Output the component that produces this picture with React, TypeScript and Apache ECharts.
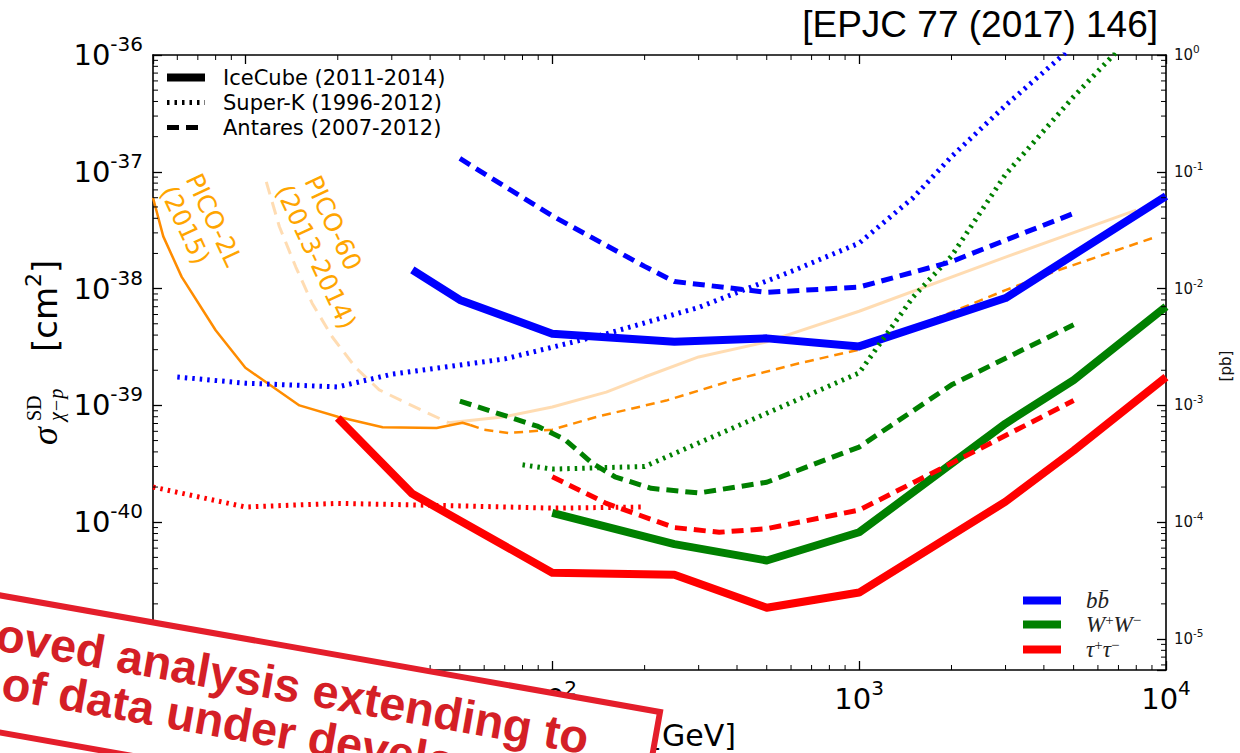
import React, { useEffect, useRef } from "react";
import * as echarts from "echarts";

// ---------- axis ranges ----------
const X_MIN = 5;
const X_MAX = 1e4;
const Y_MIN = 5.43e-42;
const Y_MAX = 1e-36;
const PB_MIN = 5.43e-6;
const PB_MAX = 1;

// ---------- IceCube (2011-2014), thick solid ----------
const icBB_x = [35, 50, 100, 250, 500, 1000, 3000, 10000];
const icBB_y = [1.45e-38, 8.0e-39, 4.1e-39, 3.5e-39, 3.75e-39, 3.2e-39, 8.3e-39, 6.2e-38];
const icWW_x = [100, 250, 500, 1000, 3000, 5000, 10000];
const icWW_y = [1.2e-40, 6.5e-41, 4.7e-41, 8.2e-41, 7.0e-40, 1.65e-39, 7.0e-39];
const icTT_x = [20, 35, 100, 250, 500, 1000, 3000, 5000, 10000];
const icTT_y = [7.8e-40, 1.75e-40, 3.7e-41, 3.55e-41, 1.85e-41, 2.5e-41, 1.5e-40, 4.1e-40, 1.75e-39];

// ---------- Super-K (1996-2012), dotted ----------
const skBB_x = [6, 10, 20, 30, 70, 150, 300, 600, 1000, 1500, 2000, 3000, 5000];
const skBB_y = [1.75e-39, 1.55e-39, 1.44e-39, 1.85e-39, 2.5e-39, 4.1e-39, 6.9e-39, 1.4e-38, 2.45e-38, 6.0e-38, 1.35e-37, 3.7e-37, 1.2e-36];
const skWW_x = [80, 100, 200, 1000, 1500, 2000, 3000, 5000, 8000];
const skWW_y = [3.1e-40, 2.85e-40, 3.0e-40, 1.9e-39, 8.5e-39, 1.9e-38, 9.5e-38, 4.4e-37, 1.6e-36];
const skTT_x = [5, 10, 20, 50, 100, 200];
const skTT_y = [2.0e-40, 1.35e-40, 1.45e-40, 1.38e-40, 1.32e-40, 1.35e-40];

// ---------- Antares (2007-2012), dashed ----------
const anBB_x = [50, 100, 200, 250, 500, 1000, 2000, 3000, 5000];
const anBB_y = [1.3e-37, 4.2e-38, 1.55e-38, 1.15e-38, 9.3e-39, 1.03e-38, 1.7e-38, 2.6e-38, 4.4e-38];
const anWW_x = [50, 90, 110, 135, 160, 210, 300, 500, 1000, 2000, 5000];
const anWW_y = [1.09e-39, 6.6e-40, 5.1e-40, 3.2e-40, 2.45e-40, 1.95e-40, 1.78e-40, 2.2e-40, 4.4e-40, 1.5e-39, 4.9e-39];
const anTT_x = [100, 150, 250, 350, 500, 1000, 2000, 5000];
const anTT_y = [2.45e-40, 1.45e-40, 9.0e-41, 8.2e-41, 8.8e-41, 1.27e-40, 3.2e-40, 1.1e-39];

// ---------- PICO ----------
const pico2L_x = [5, 5.4, 6.2, 8, 10, 15, 20, 28, 42, 51, 54];
const pico2L_y = [6.0e-38, 2.8e-38, 1.26e-38, 4.4e-39, 2.1e-39, 1.0e-39, 8.0e-40, 6.5e-40, 6.4e-40, 7.1e-40, 6.8e-40];
const pico2LExt_x = [54, 60, 72, 100, 140, 235, 390, 640, 1000, 3000, 4500, 9000];
const pico2LExt_y = [6.8e-40, 6.2e-40, 5.8e-40, 6.2e-40, 8.0e-40, 1.1e-39, 1.65e-39, 2.3e-39, 3.0e-39, 9.7e-39, 1.45e-38, 2.7e-38];
const pico60_x = [11.7, 12.9, 14.6, 16.5, 19.2, 22.9, 27.3, 33.4, 46];
const pico60_y = [8.2e-38, 3.4e-38, 1.53e-38, 7.5e-39, 3.85e-39, 2.1e-39, 1.36e-39, 1.05e-39, 7.1e-40];
const pico60Ext_x = [46, 70, 100, 150, 200, 300, 500, 1000, 3000, 8000];
const pico60Ext_y = [7.1e-40, 8.0e-40, 9.7e-40, 1.3e-39, 1.75e-39, 2.6e-39, 3.5e-39, 6.4e-39, 1.86e-38, 4.7e-38];

// ---------- legends / labels ----------
const experimentNames = ["IceCube (2011-2014)", "Super-K (1996-2012)", "Antares (2007-2012)"];
const channelNames = ["bb\u0304", "W+W-", "τ+τ-"];
const channelRich: Record<string, string> = {
  "bb\u0304": "{i|bb\u0304}",
  "W+W-": "{i|W}{s|+}{i|W}{s|−}",
  "τ+τ-": "{i|τ}{s|+}{i|τ}{s|−}",
};

const BLUE = "#0000ff";
const GREEN = "#008000";
const RED = "#ff0000";
const ORANGE = "#ff8c00";
const PEACH = "rgba(255,140,0,0.3)";
const LABEL_ORANGE = "#ffa500";

const SANS = "'DejaVu Sans', sans-serif";
const SERIF = "'Liberation Serif', 'DejaVu Serif', serif";
const ARIAL = "'Liberation Sans', Arial, sans-serif";

const DOT = [2.5, 5];
const DASH = [12, 7];
const DOT_W = 5;

const pts = (xs: number[], ys: number[]) => xs.map((x, i) => [x, ys[i]]);

const powLabel = (v: number) => {
  const e = Math.log10(v);
  const r = Math.round(e);
  if (Math.abs(e - r) > 1e-6) return "";
  return `{b|10}{s|${r}}`;
};

function buildMinorTicks() {
  const data: number[][] = [];
  for (let n = 0; n <= 3; n++) {
    for (let k = 2; k <= 9; k++) {
      const v = k * Math.pow(10, n);
      if (v > X_MIN * 1.0001 && v < X_MAX * 0.9999) {
        data.push([v, Y_MIN, 0]);
        data.push([v, Y_MAX, 1]);
      }
    }
  }
  for (let n = -42; n <= -37; n++) {
    for (let k = 2; k <= 9; k++) {
      const v = k * Math.pow(10, n);
      if (v > Y_MIN * 1.0001 && v < Y_MAX * 0.9999) {
        data.push([X_MIN, v, 2]);
        data.push([X_MAX, v, 3]);
      }
    }
  }
  return data;
}

const lineBase = {
  type: "line",
  symbol: "none",
  showSymbol: false,
  silent: true,
  clip: true,
  emphasis: { disabled: true },
};

function buildOption() {
  const frame = { show: true, onZero: false, lineStyle: { color: "#000", width: 1.6 } };
  const major = { show: true, inside: true, length: 9, lineStyle: { color: "#000", width: 1.3 } };
  const bigRich = {
    b: { fontSize: 29, fontFamily: SANS, color: "#000", lineHeight: 34 },
    s: { fontSize: 20, fontFamily: SANS, color: "#000", padding: [0, 0, 22, 0] },
  };
  const smallRich = {
    b: { fontSize: 15, fontFamily: SANS, color: "#111", lineHeight: 18 },
    s: { fontSize: 10.5, fontFamily: SANS, color: "#111", padding: [0, 0, 12, 0] },
  };
  const rot = (-65 * Math.PI) / 180;
  const bannerRot = (-10 * Math.PI) / 180;
  const BZ = 100;

  return {
    animation: false,
    backgroundColor: "#ffffff",
    grid: { left: 153, right: 74, top: 55, bottom: 83, containLabel: false, outerBoundsMode: "none" },
    xAxis: [
      {
        type: "log", logBase: 10, min: X_MIN, max: X_MAX, position: "bottom",
        axisLine: frame, axisTick: major, splitLine: { show: false }, minorTick: { show: false },
        axisLabel: { show: true, formatter: powLabel, margin: 8, rich: bigRich },
      },
      {
        type: "log", logBase: 10, min: X_MIN, max: X_MAX, position: "top",
        axisLine: frame, axisTick: major, splitLine: { show: false },
        axisLabel: { show: false },
      },
    ],
    yAxis: [
      {
        type: "log", logBase: 10, min: Y_MIN, max: Y_MAX, position: "left",
        axisLine: frame, axisTick: major, splitLine: { show: false },
        axisLabel: { show: true, formatter: powLabel, margin: 10, rich: bigRich },
      },
      {
        type: "log", logBase: 10, min: PB_MIN, max: PB_MAX, position: "right",
        axisLine: frame, axisTick: major, splitLine: { show: false },
        axisLabel: { show: true, formatter: powLabel, margin: 8, rich: smallRich },
      },
    ],
    legend: [
      {
        orient: "vertical", left: 163, top: 67, padding: 0, itemWidth: 38, itemHeight: 20, itemGap: 4,
        selectedMode: false,
        itemStyle: { opacity: 0 },
        data: [
          { name: experimentNames[0], lineStyle: { width: 8, type: "solid", color: "#000" } },
          { name: experimentNames[1], lineStyle: { width: DOT_W, type: DOT, color: "#000" } },
          { name: experimentNames[2], lineStyle: { width: 5, type: DASH, color: "#000" } },
        ],
        textStyle: { fontSize: 21, lineHeight: 20, fontFamily: SANS, color: "#000", padding: [0, 0, 0, 13] },
      },
      {
        orient: "vertical", left: 1019, top: 589, padding: 0, itemWidth: 38, itemHeight: 20, itemGap: 0,
        selectedMode: false,
        itemStyle: { opacity: 0 },
        data: channelNames.map((n) => ({ name: n, lineStyle: { width: 8, type: "solid" } })),
        formatter: (name: string) => channelRich[name] || name,
        textStyle: {
          color: "#222", padding: [0, 0, 0, 20],
          rich: {
            i: { fontFamily: SERIF, fontStyle: "italic", fontSize: 23, lineHeight: 20, color: "#222" },
            s: { fontFamily: SERIF, fontSize: 15, lineHeight: 10, color: "#222", padding: [0, 0, 10, 0] },
          },
        },
      },
    ],
    graphic: {
      elements: [
        {
          type: "text", x: 1158, y: 24, z: 60,
          style: { text: "[EPJC 77 (2017) 146]", fontSize: 37, fontFamily: ARIAL, fill: "#000", align: "right", verticalAlign: "middle" },
        },
        {
          type: "text", x: 214, y: 220, rotation: rot, z: 60,
          style: { text: "PICO-2L", fontSize: 25, fontFamily: SANS, fill: LABEL_ORANGE, align: "center", verticalAlign: "middle" },
        },
        {
          type: "text", x: 185, y: 225, rotation: rot, z: 60,
          style: { text: "(2015)", fontSize: 25, fontFamily: SANS, fill: LABEL_ORANGE, align: "center", verticalAlign: "middle" },
        },
        {
          type: "text", x: 333, y: 223, rotation: rot, z: 60,
          style: { text: "PICO-60", fontSize: 25, fontFamily: SANS, fill: LABEL_ORANGE, align: "center", verticalAlign: "middle" },
        },
        {
          type: "text", x: 316, y: 257, rotation: rot, z: 60,
          style: { text: "(2013-2014)", fontSize: 25, fontFamily: SANS, fill: LABEL_ORANGE, align: "center", verticalAlign: "middle" },
        },
        // y axis title
        {
          type: "group", x: 45, y: 447, rotation: Math.PI / 2,
          children: [
            { type: "text", x: 2, y: 0, z: 60, style: { text: "σ", fontFamily: SERIF, fontStyle: "italic", fontSize: 36, fill: "#000", align: "left", verticalAlign: "middle" } },
            { type: "text", x: 26, y: -11, z: 60, style: { text: "SD", fontFamily: SERIF, fontSize: 20, fill: "#000", align: "left", verticalAlign: "middle" } },
            { type: "text", x: 26, y: 11, z: 60, style: { text: "χ−p", fontFamily: SERIF, fontStyle: "italic", fontSize: 20, fill: "#000", align: "left", verticalAlign: "middle" } },
            {
              type: "text", x: 95, y: 0, z: 60,
              style: {
                text: "{n|[cm}{s|2}{n|]}", align: "left", verticalAlign: "middle",
                rich: {
                  n: { fontFamily: SANS, fontSize: 34, fill: "#000", color: "#000" },
                  s: { fontFamily: SANS, fontSize: 22, fill: "#000", color: "#000", padding: [0, 0, 24, 0] },
                },
              },
            },
          ],
        },
        // right axis title
        {
          type: "text", x: 1226, y: 366, rotation: Math.PI / 2, z: 60,
          style: { text: "[pb]", fontFamily: SANS, fontSize: 15, fill: "#111", align: "center", verticalAlign: "middle" },
        },
        // x axis title (mostly hidden by the banner)
        {
          type: "text", x: 736, y: 735, z: 60,
          style: {
            text: "{i|m}{u|χ}{n| [GeV]}", align: "right", verticalAlign: "middle",
            rich: {
              i: { fontFamily: SERIF, fontStyle: "italic", fontSize: 34, color: "#000" },
              u: { fontFamily: SERIF, fontStyle: "italic", fontSize: 20, color: "#000", padding: [16, 0, 0, 0] },
              n: { fontFamily: SANS, fontSize: 30, color: "#000" },
            },
          },
        },
        // banner
        {
          type: "group", x: 660, y: 712, rotation: bannerRot,
          children: [
            { type: "rect", z: BZ, shape: { x: -820, y: 0, width: 820, height: 135 }, style: { fill: "#ffffff", stroke: "#e41e2b", lineWidth: 6 } },
            {
              type: "text", x: -66, y: 38, z: BZ + 1,
              style: { text: "Improved analysis extending to", fontFamily: ARIAL, fontWeight: "bold", fontSize: 47, fill: "#d41f26", align: "right", verticalAlign: "middle" },
            },
            {
              type: "text", x: -52, y: 85, z: BZ + 1,
              style: { text: "of data under development", fontFamily: ARIAL, fontWeight: "bold", fontSize: 47, fill: "#d41f26", align: "right", verticalAlign: "middle" },
            },
          ],
        },
      ],
    },
    series: [
      // PICO
      { ...lineBase, name: "PICO-2L (2015)", data: pts(pico2L_x, pico2L_y), color: ORANGE, lineStyle: { color: ORANGE, width: 2.5 } },
      { ...lineBase, name: "PICO-2L ext", data: pts(pico2LExt_x, pico2LExt_y), color: ORANGE, lineStyle: { color: ORANGE, width: 2.5, type: [9, 6] } },
      { ...lineBase, name: "PICO-60 (2013-2014)", data: pts(pico60_x, pico60_y), color: PEACH, lineStyle: { color: PEACH, width: 3, type: [13, 8] } },
      { ...lineBase, name: "PICO-60 ext", data: pts(pico60Ext_x, pico60Ext_y), color: PEACH, lineStyle: { color: PEACH, width: 3 } },
      // IceCube
      { ...lineBase, name: channelNames[0], data: pts(icBB_x, icBB_y), color: BLUE, lineStyle: { color: BLUE, width: 8, cap: "butt", join: "round" } },
      { ...lineBase, name: channelNames[1], data: pts(icWW_x, icWW_y), color: GREEN, lineStyle: { color: GREEN, width: 8, cap: "butt", join: "round" } },
      { ...lineBase, name: channelNames[2], data: pts(icTT_x, icTT_y), color: RED, lineStyle: { color: RED, width: 8, cap: "butt", join: "round" } },
      // Super-K
      { ...lineBase, name: "Super-K bb", data: pts(skBB_x, skBB_y), color: BLUE, lineStyle: { color: BLUE, width: DOT_W, type: DOT, cap: "butt" } },
      { ...lineBase, name: "Super-K WW", data: pts(skWW_x, skWW_y), color: GREEN, lineStyle: { color: GREEN, width: DOT_W, type: DOT, cap: "butt" } },
      { ...lineBase, name: "Super-K tautau", data: pts(skTT_x, skTT_y), color: RED, lineStyle: { color: RED, width: DOT_W, type: DOT, cap: "butt" } },
      // Antares
      { ...lineBase, name: "Antares bb", data: pts(anBB_x, anBB_y), color: BLUE, lineStyle: { color: BLUE, width: 5, type: DASH, cap: "butt" } },
      { ...lineBase, name: "Antares WW", data: pts(anWW_x, anWW_y), color: GREEN, lineStyle: { color: GREEN, width: 5, type: DASH, cap: "butt" } },
      { ...lineBase, name: "Antares tautau", data: pts(anTT_x, anTT_y), color: RED, lineStyle: { color: RED, width: 5, type: DASH, cap: "butt" } },
      // legend-only entries (line styles)
      { ...lineBase, name: experimentNames[0], data: [], color: "#000", lineStyle: { color: "#000", width: 8 } },
      { ...lineBase, name: experimentNames[1], data: [], color: "#000", lineStyle: { color: "#000", width: DOT_W, type: DOT } },
      { ...lineBase, name: experimentNames[2], data: [], color: "#000", lineStyle: { color: "#000", width: 5, type: DASH } },
      // minor log ticks on all four sides
      {
        type: "custom", name: "minor ticks", silent: true, z: 5,
        coordinateSystem: "cartesian2d", xAxisIndex: 0, yAxisIndex: 0,
        encode: { x: 0, y: 1 },
        data: buildMinorTicks(),
        renderItem: (_params: any, api: any) => {
          const x = api.value(0);
          const y = api.value(1);
          const side = api.value(2);
          const p = api.coord([x, y]);
          const L = 5;
          let x2 = p[0];
          let y2 = p[1];
          if (side === 0) y2 = p[1] - L;
          else if (side === 1) y2 = p[1] + L;
          else if (side === 2) x2 = p[0] + L;
          else x2 = p[0] - L;
          return { type: "line", shape: { x1: p[0], y1: p[1], x2, y2 }, style: { stroke: "#000", lineWidth: 1 } };
        },
      },
    ],
  };
}

export default function App() {
  const ref = useRef<HTMLDivElement>(null);
  useEffect(() => {
    if (!ref.current) return;
    const chart = echarts.init(ref.current, null, { renderer: "svg" });
    chart.setOption(buildOption() as any);
    return () => chart.dispose();
  }, []);
  return (
    <div
      ref={ref}
      style={{ position: "fixed", left: 0, top: 0, width: 1240, height: 753, background: "#fff" }}
    />
  );
}
